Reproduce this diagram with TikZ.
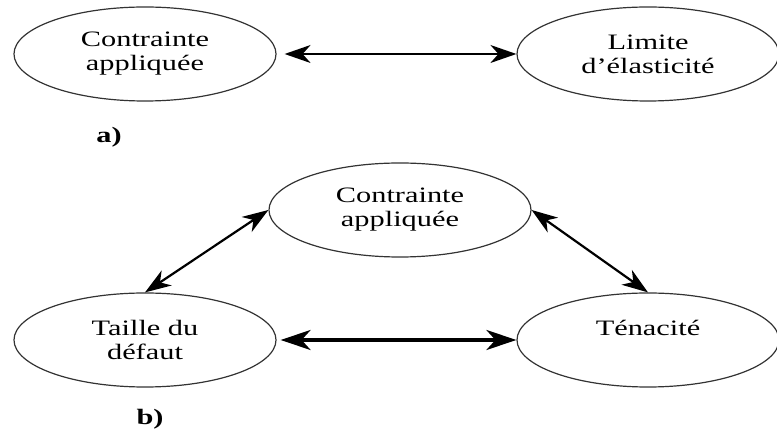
\documentclass[tikz,border=0pt]{standalone}
\usepackage{fontspec}
\setmainfont{Liberation Serif}[FakeStretch=1.38]
\usetikzlibrary{shapes.geometric,arrows.meta}

\begin{document}
\begin{tikzpicture}[>={Stealth[length=13pt,width=9pt,inset=4pt]}, x=0.5pt, y=-0.5pt,
        bulle/.style={ellipse, draw=black!80, line width=0.6pt, minimum width=131pt,
            minimum height=47pt, inner sep=0pt, align=center,
            font=\fontsize{11}{12}\selectfont},
        lettre/.style={font=\fontsize{11}{12}\selectfont\bfseries}]
    \useasboundingbox (0,0) rectangle (777,432);

    % a) contrainte / limite d'elasticite
    \node[bulle] (contr) at (145,54) {Contrainte\\appliquée};
    \node[bulle] (limite) at (648,54) {Limite\\d'élasticité};
    \node[lettre] (lettrea) at (109,137) {a)};
    \draw[<->, line width=0.8pt, shorten <=4pt] (contr) -- (limite);

    % b) les trois grandeurs
    \node[bulle] (contrb) at (400,210) {Contrainte\\appliquée};
    \node[bulle] (taille) at (145,340) {Taille du\\défaut};
    \node[bulle] (tenac) at (648,340) {Ténacité\\\mbox{}};
    \node[lettre] (lettreb) at (150,419) {b)};
    \draw[<->, line width=1.1pt] (contrb.west) -- (taille.north);
    \draw[<->, line width=1.1pt] (contrb.east) -- (tenac.north);
    \draw[<->, line width=1.6pt, shorten <=2pt, >={Stealth[length=15pt,width=10pt,inset=4.5pt]}] (taille) -- (tenac);
\end{tikzpicture}
\end{document}
